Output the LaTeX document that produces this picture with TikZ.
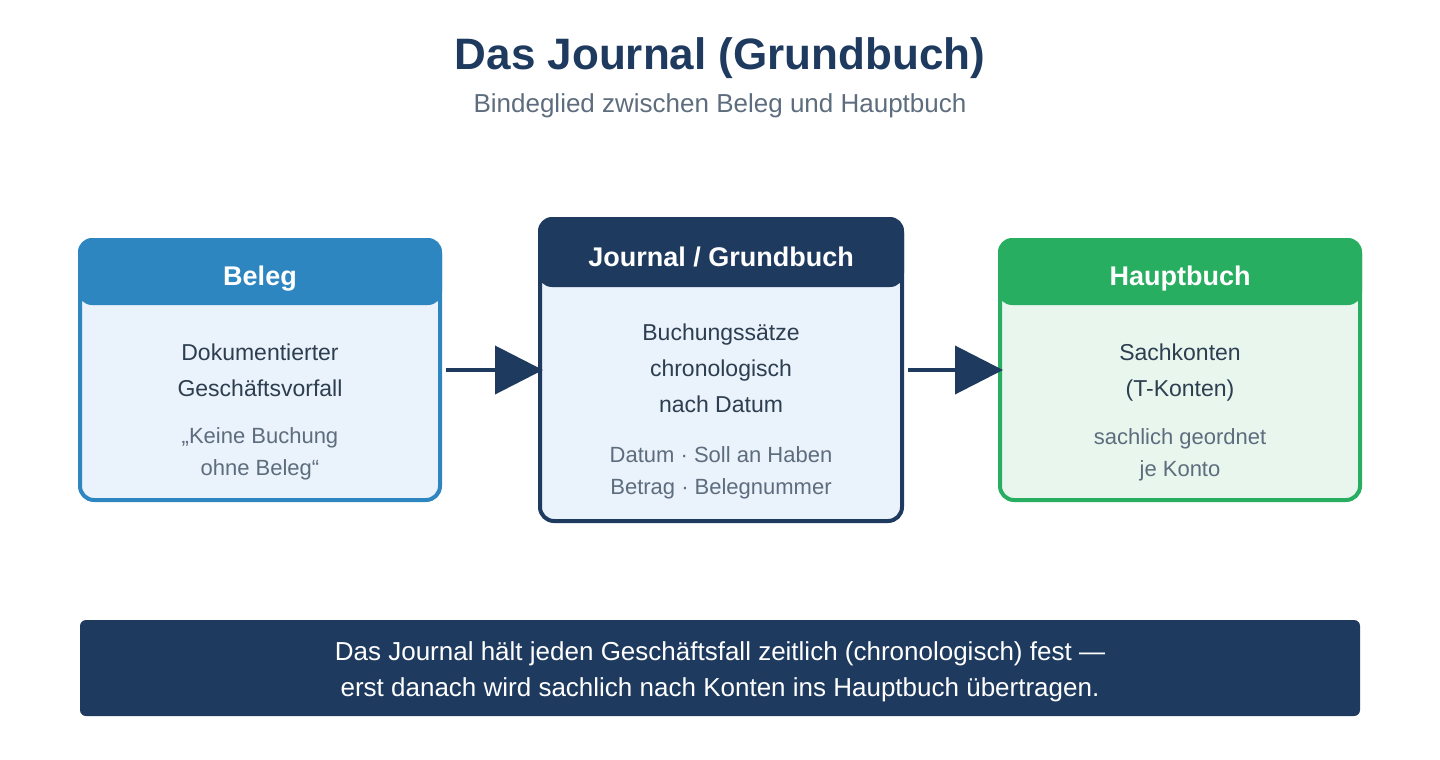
\documentclass[tikz,border=0pt]{standalone}
\usepackage{fontspec}
\setmainfont{Liberation Sans}
\usetikzlibrary{arrows.meta, positioning, calc}
\definecolor{navy}{HTML}{1F3A5F}
\definecolor{belegblau}{HTML}{2E86C1}
\definecolor{buchgruen}{HTML}{27AE60}
\definecolor{hellblau}{HTML}{EAF2FB}
\definecolor{hellgruen}{HTML}{E8F6EE}
\definecolor{textdunkel}{HTML}{2C3E50}
\definecolor{textgrau}{HTML}{5D6D7E}

\begin{document}
\begin{tikzpicture}[x=1pt, y=-1pt,
    box/.style={draw, line width=4pt, rounded corners=14pt, minimum width=360pt, minimum height=260pt, inner sep=0pt},
    kopf/.style={text=white, font=\fontsize{27}{30}\selectfont\bfseries, anchor=base},
    haupt/.style={text=textdunkel, align=center, anchor=base, font=\fontsize{23}{36}\selectfont},
    info/.style={text=textgrau, align=center, anchor=base, font=\fontsize{22}{32}\selectfont},
    flow/.style={navy, line width=4pt, shorten <=4pt, -{Triangle[length=48pt, width=48pt]}}]
    \useasboundingbox (0,0) rectangle (1440,760);

    %Titel
    \node at (720, 70) [anchor=base, text=navy, font=\fontsize{44}{50}\selectfont\bfseries] (titel) {Das Journal (Grundbuch)};
    \node at (720, 112) [anchor=base, text=textgrau, font=\fontsize{26}{30}\selectfont] (untertitel) {Bindeglied zwischen Beleg und Hauptbuch};

    %Beleg
    \node at (260, 370) [box, draw=belegblau, fill=hellblau] (beleg) {};
    \fill[belegblau, rounded corners=14pt] (beleg.north west) rectangle ($(beleg.north east) + (0, 67)$);
    \node at (260, 285) [kopf] (beleg_kopf) {Beleg};
    \node at (260, 396) [haupt] (beleg_text) {Dokumentierter\\Geschäftsvorfall};
    \node at (260, 475) [info] (beleg_info) {„Keine Buchung\\ohne Beleg“};

    %Journal
    \node at (721, 370) [box, draw=navy, fill=hellblau, minimum width=362pt, minimum height=302pt] (journal) {};
    \fill[navy, rounded corners=14pt] (journal.north west) rectangle ($(journal.north east) + (0, 70)$);
    \node at (721, 266) [kopf] (journal_kopf) {Journal / Grundbuch};
    \node at (721, 412) [haupt] (journal_text) {Buchungssätze\\chronologisch\\nach Datum};
    \node at (721, 494) [info] (journal_info) {Datum · Soll an Haben\\Betrag · Belegnummer};

    %Hauptbuch
    \node at (1180, 370) [box, draw=buchgruen, fill=hellgruen] (hauptbuch) {};
    \fill[buchgruen, rounded corners=14pt] (hauptbuch.north west) rectangle ($(hauptbuch.north east) + (0, 67)$);
    \node at (1180, 285) [kopf] (hauptbuch_kopf) {Hauptbuch};
    \node at (1180, 396) [haupt] (hauptbuch_text) {Sachkonten\\(T-Konten)};
    \node at (1180, 476) [info] (hauptbuch_info) {sachlich geordnet\\je Konto};

    \draw[flow] (beleg.east) -- ([xshift=5pt]journal.west);
    \draw[flow] (journal.east) -- ([xshift=5pt]hauptbuch.west);

    %Fazit
    \node at (720, 668) [fill=navy, rounded corners=6pt, minimum width=1280pt, minimum height=96pt] (fazit) {};
    \node at (720, 696) [anchor=base, text=white, align=center, font=\fontsize{26}{36}\selectfont] (fazit_text) {Das Journal hält jeden Geschäftsfall zeitlich (chronologisch) fest —\\erst danach wird sachlich nach Konten ins Hauptbuch übertragen.};
\end{tikzpicture}
\end{document}
